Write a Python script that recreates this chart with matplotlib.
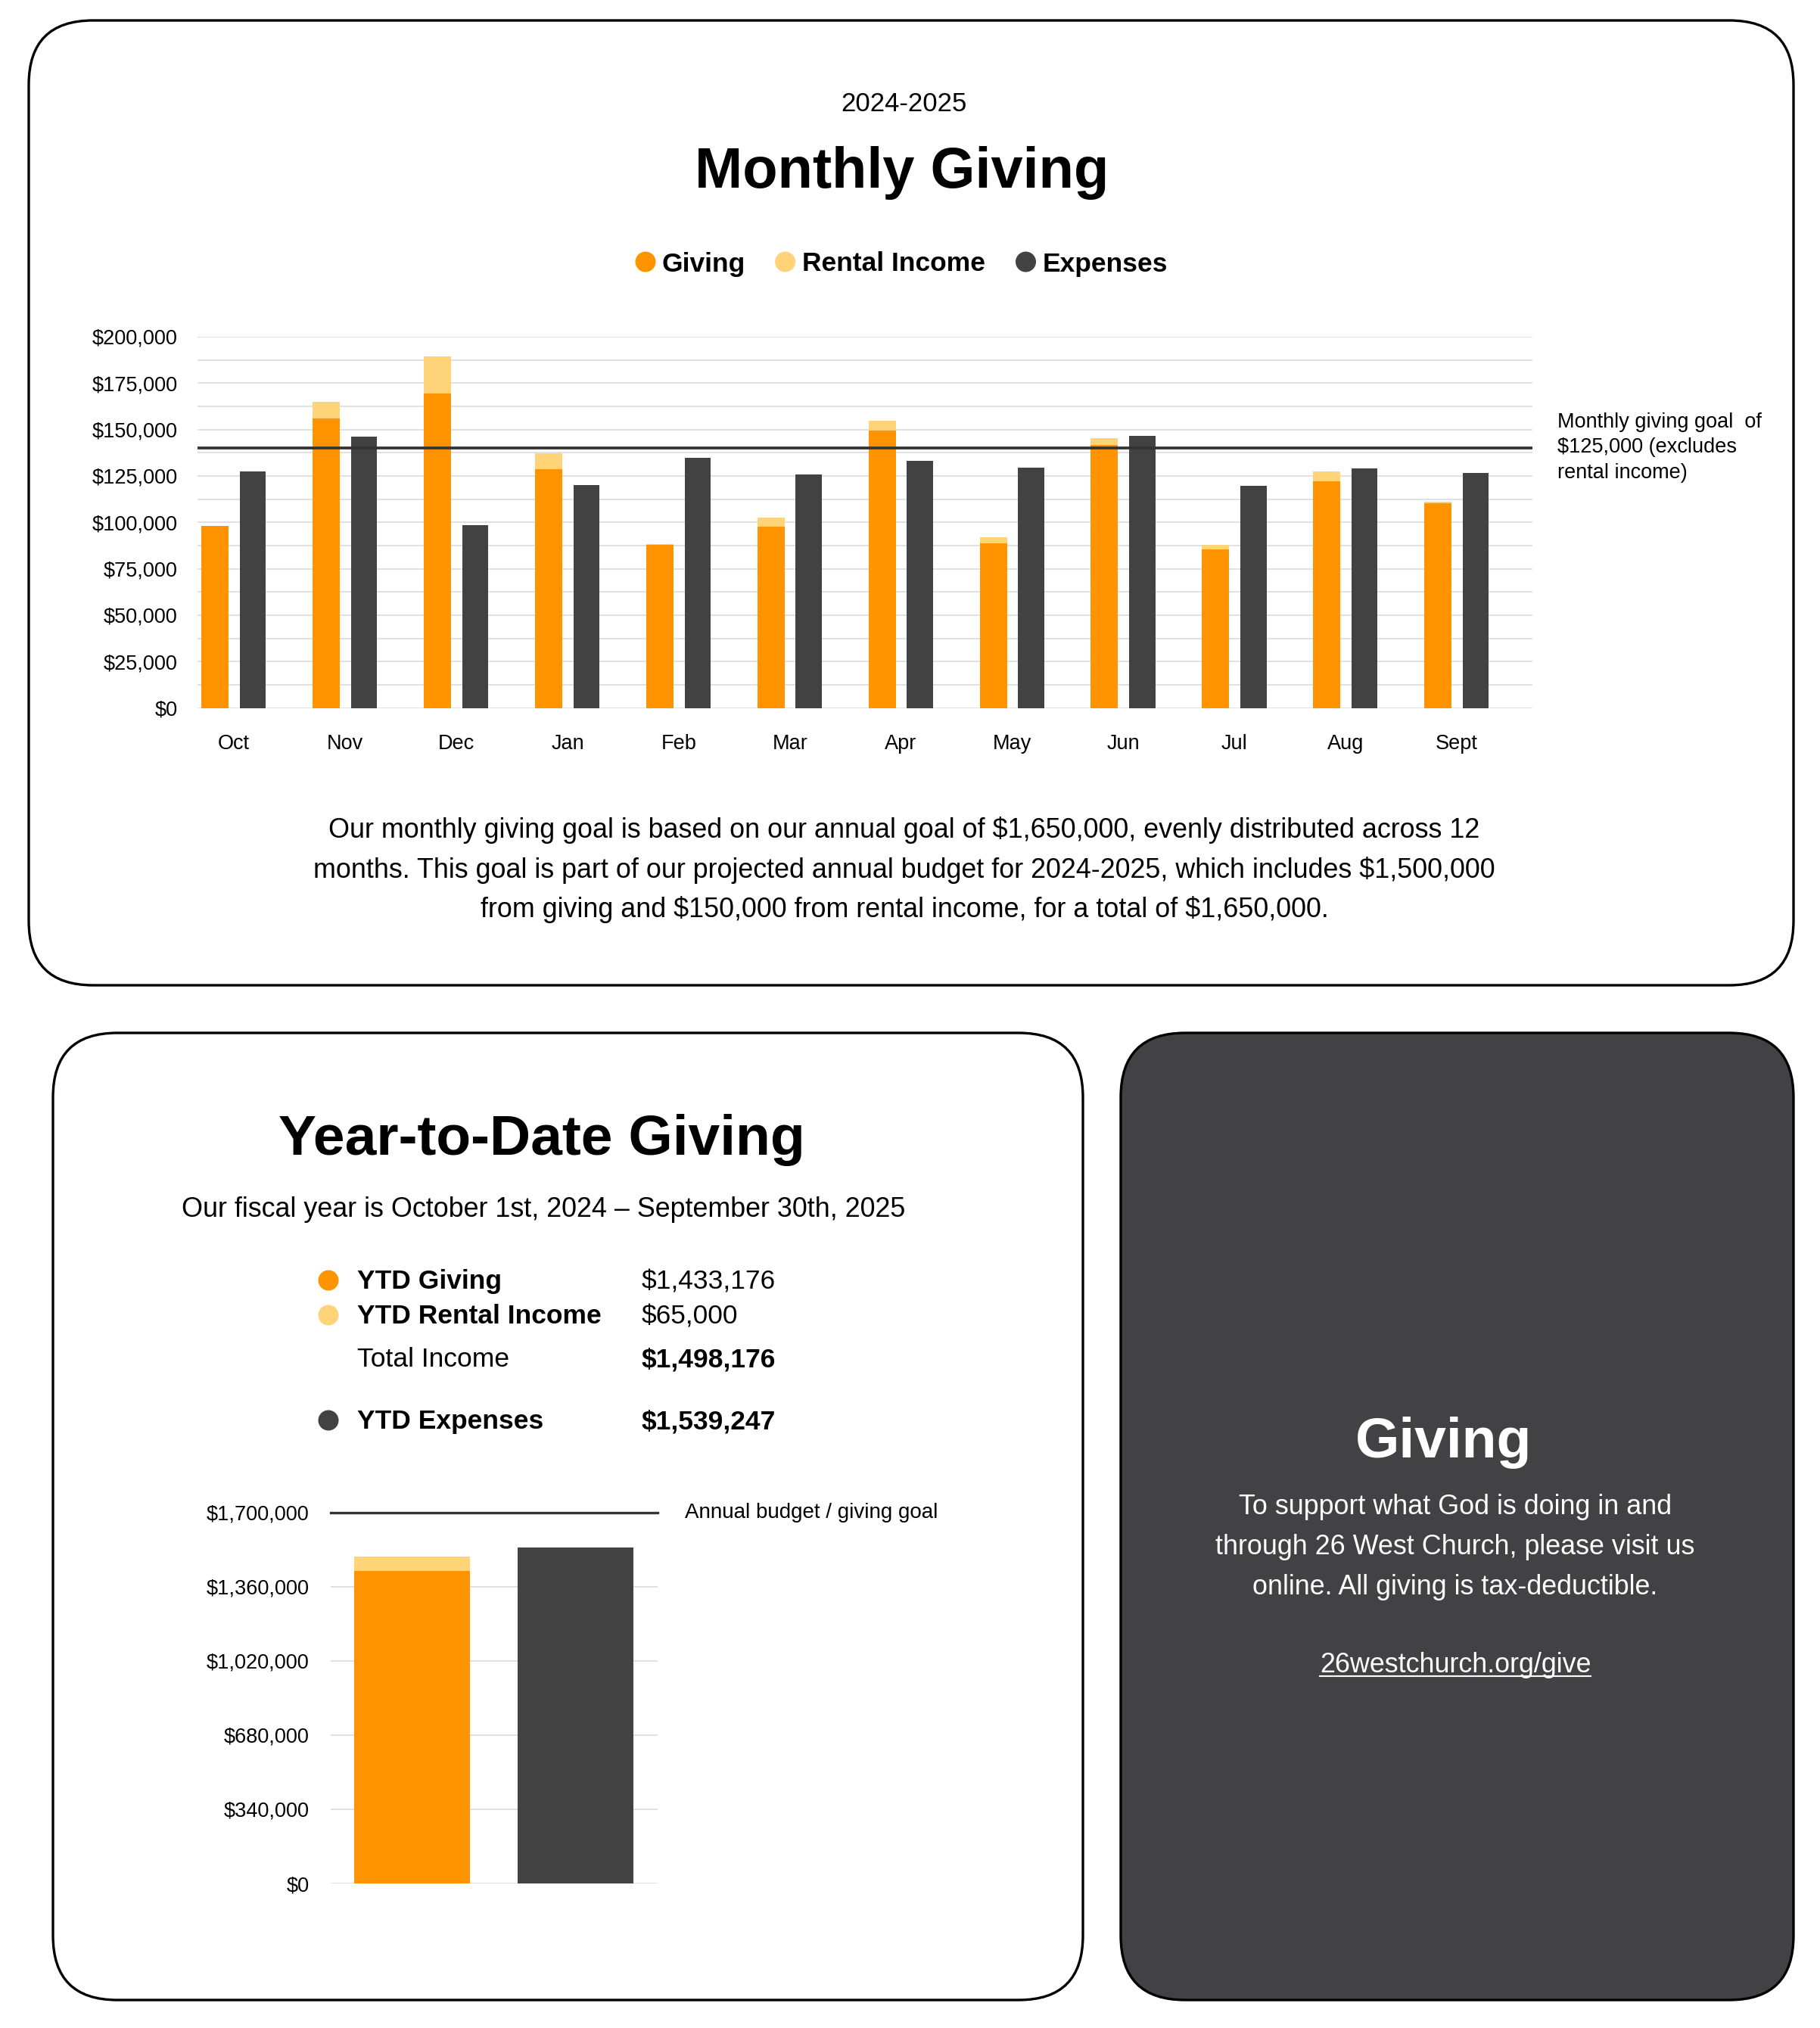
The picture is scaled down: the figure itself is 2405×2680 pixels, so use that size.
import numpy as np
import matplotlib
matplotlib.use('Agg')
import matplotlib.pyplot as plt
from matplotlib.patches import FancyBboxPatch, Circle
from matplotlib.ticker import FuncFormatter, MultipleLocator

plt.rcParams['font.family'] = ['Liberation Sans', 'DejaVu Sans']

W, H = 2405, 2680

# monthly numbers
months = ['Oct', 'Nov', 'Dec', 'Jan', 'Feb', 'Mar', 'Apr', 'May', 'Jun', 'Jul', 'Aug', 'Sept']
giving = [98100, 155800, 169400, 128500, 87800, 97800, 149300, 88800, 141500, 85300, 122000, 110100]
rental = [0, 9100, 19800, 8500, 300, 4700, 5500, 3200, 3900, 2400, 5500, 800]
expenses = [127500, 146200, 98400, 120000, 134900, 125900, 133200, 129600, 146500, 119800, 128900, 126400]
monthly_goal_line = 140000

# year to date
ytd_labels = ['YTD Giving', 'YTD Rental Income', 'Total Income', 'YTD Expenses']
ytd_values = [1433176, 65000, 1498176, 1539247]
annual_line = 1700000

ORANGE = '#FF9300'
LIGHT = '#FFD479'
DARK = '#424242'
GRID = '#DEDEDE'
PANEL_DARK = '#424244'

fig = plt.figure(figsize=(W / 100, H / 100), dpi=100)
bg = fig.add_axes([0, 0, 1, 1])
bg.set_xlim(0, W)
bg.set_ylim(H, 0)
bg.axis('off')


def panel(x0, y0, x1, y1, fc):
    bg.add_patch(FancyBboxPatch((x0, y0), x1 - x0, y1 - y0,
                                boxstyle='round,pad=0,rounding_size=85',
                                fc=fc, ec='black', lw=2.4))


def txt(x, y, s, size, weight='normal', color='black', ha='center', va='baseline'):
    return bg.text(x, y, s, fontsize=size, fontweight=weight, color=color,
                   ha=ha, va=va, parse_math=False)


def dot(x, y, color):
    bg.add_patch(Circle((x, y), 12.8, color=color))


money = FuncFormatter(lambda v, p: f'${v:,.0f}')

panel(38, 27, 2370, 1302, 'white')
panel(70, 1365, 1431, 2643, 'white')
panel(1481, 1365, 2370, 2643, PANEL_DARK)

# ---- top panel ----
txt(1194, 147, '2024-2025', 25)
txt(1192, 248, 'Monthly Giving', 54.5, 'bold')

dot(853, 346, ORANGE)
txt(875, 358.5, 'Giving', 25.5, 'bold', ha='left')
dot(1037.6, 346, LIGHT)
txt(1059.6, 358.5, 'Rental Income', 25.5, 'bold', ha='left')
dot(1355.5, 346, DARK)
txt(1378, 358.5, 'Expenses', 25.5, 'bold', ha='left')

ax = fig.add_axes([261.3 / W, 1 - 935.5 / H, (2024.6 - 261.3) / W, (935.5 - 444.9) / H])
ax.set_facecolor('none')
x = np.arange(len(months))
ax.bar(x - 0.17, giving, 0.245, color=ORANGE, zorder=3)
ax.bar(x - 0.17, rental, 0.245, bottom=giving, color=LIGHT, zorder=3)
ax.bar(x + 0.17, expenses, 0.235, color=DARK, zorder=3)
ax.axhline(monthly_goal_line, color='#333333', lw=2.7, zorder=4)
ax.set_xlim(-0.326, 11.677)
ax.set_ylim(0, 200000)
ax.yaxis.set_major_locator(MultipleLocator(25000))
ax.yaxis.set_minor_locator(MultipleLocator(12500))
ax.yaxis.set_major_formatter(money)
ax.grid(axis='y', which='both', color=GRID, lw=1.3, zorder=0)
ax.set_xticks(x, months)
ax.tick_params(axis='both', which='both', length=0, labelsize=19.5)
ax.tick_params(axis='y', pad=19)
ax.tick_params(axis='x', pad=25)
for s in ax.spines.values():
    s.set_visible(False)

for i, line in enumerate(['Monthly giving goal  of', '$125,000 (excludes', 'rental income)']):
    txt(2058, 565 + 33.5 * i, line, 19.5, ha='left')

para = ['Our monthly giving goal is based on our annual goal of $1,650,000, evenly distributed across 12',
        'months. This goal is part of our projected annual budget for 2024-2025, which includes $1,500,000',
        'from giving and $150,000 from rental income, for a total of $1,650,000.']
for i, line in enumerate(para):
    txt(1195, 1107 + 52.5 * i, line, 25.8)

# ---- year to date panel ----
txt(716, 1526, 'Year-to-Date Giving', 54, 'bold')
txt(718, 1608, 'Our fiscal year is October 1st, 2024 \u2013 September 30th, 2025', 25.8)

rows_y = [1703, 1749, 1806, 1888]
dots = [ORANGE, LIGHT, None, DARK]
lab_w = ['bold', 'bold', 'normal', 'bold']
val_w = ['normal', 'normal', 'bold', 'bold']
for lab, val, yy, c, lw_, vw in zip(ytd_labels, ytd_values, rows_y, dots, lab_w, val_w):
    if c:
        dot(434, yy - 11, c)
    txt(472, yy, lab, 25.5, lw_, ha='left')
    txt(848, yy, f'${val:,.0f}', 25.5, vw, ha='left')

ax2 = fig.add_axes([436.5 / W, 1 - 2489 / H, (868.8 - 436.5) / W, (2489 - 1998.8) / H])
ax2.set_facecolor('none')
ax2.bar(0, ytd_values[0], 0.71, color=ORANGE, zorder=3)
ax2.bar(0, ytd_values[1], 0.71, bottom=ytd_values[0], color=LIGHT, zorder=3)
ax2.bar(1, ytd_values[3], 0.71, color=DARK, zorder=3)
ax2.axhline(annual_line, color='#333333', lw=2.4, zorder=4, clip_on=False)
ax2.set_xlim(-0.5, 1.5)
ax2.set_ylim(0, 1700000)
ax2.yaxis.set_major_locator(MultipleLocator(340000))
ax2.yaxis.set_major_formatter(money)
ax2.grid(axis='y', color=GRID, lw=1.3, zorder=0)
ax2.set_xticks([])
ax2.tick_params(axis='y', length=0, labelsize=19.5, pad=20)
for s in ax2.spines.values():
    s.set_visible(False)
txt(905, 1999, 'Annual budget / giving goal', 20, ha='left', va='center')

# ---- dark panel ----
txt(1908, 1926, 'Giving', 54, 'bold', color='white')
give = ['To support what God is doing in and',
        'through 26 West Church, please visit us',
        'online. All giving is tax-deductible.']
for i, line in enumerate(give):
    txt(1923, 2001 + 53 * i, line, 25.8, color='white')
link = txt(1923, 2210, '26westchurch.org/give', 25.8, color='white')

fig.canvas.draw()
bb = link.get_window_extent().transformed(bg.transData.inverted())
bg.plot([bb.x0, bb.x1], [2215, 2215], color='white', lw=1.5)

fig.savefig('out.png', dpi=100)
